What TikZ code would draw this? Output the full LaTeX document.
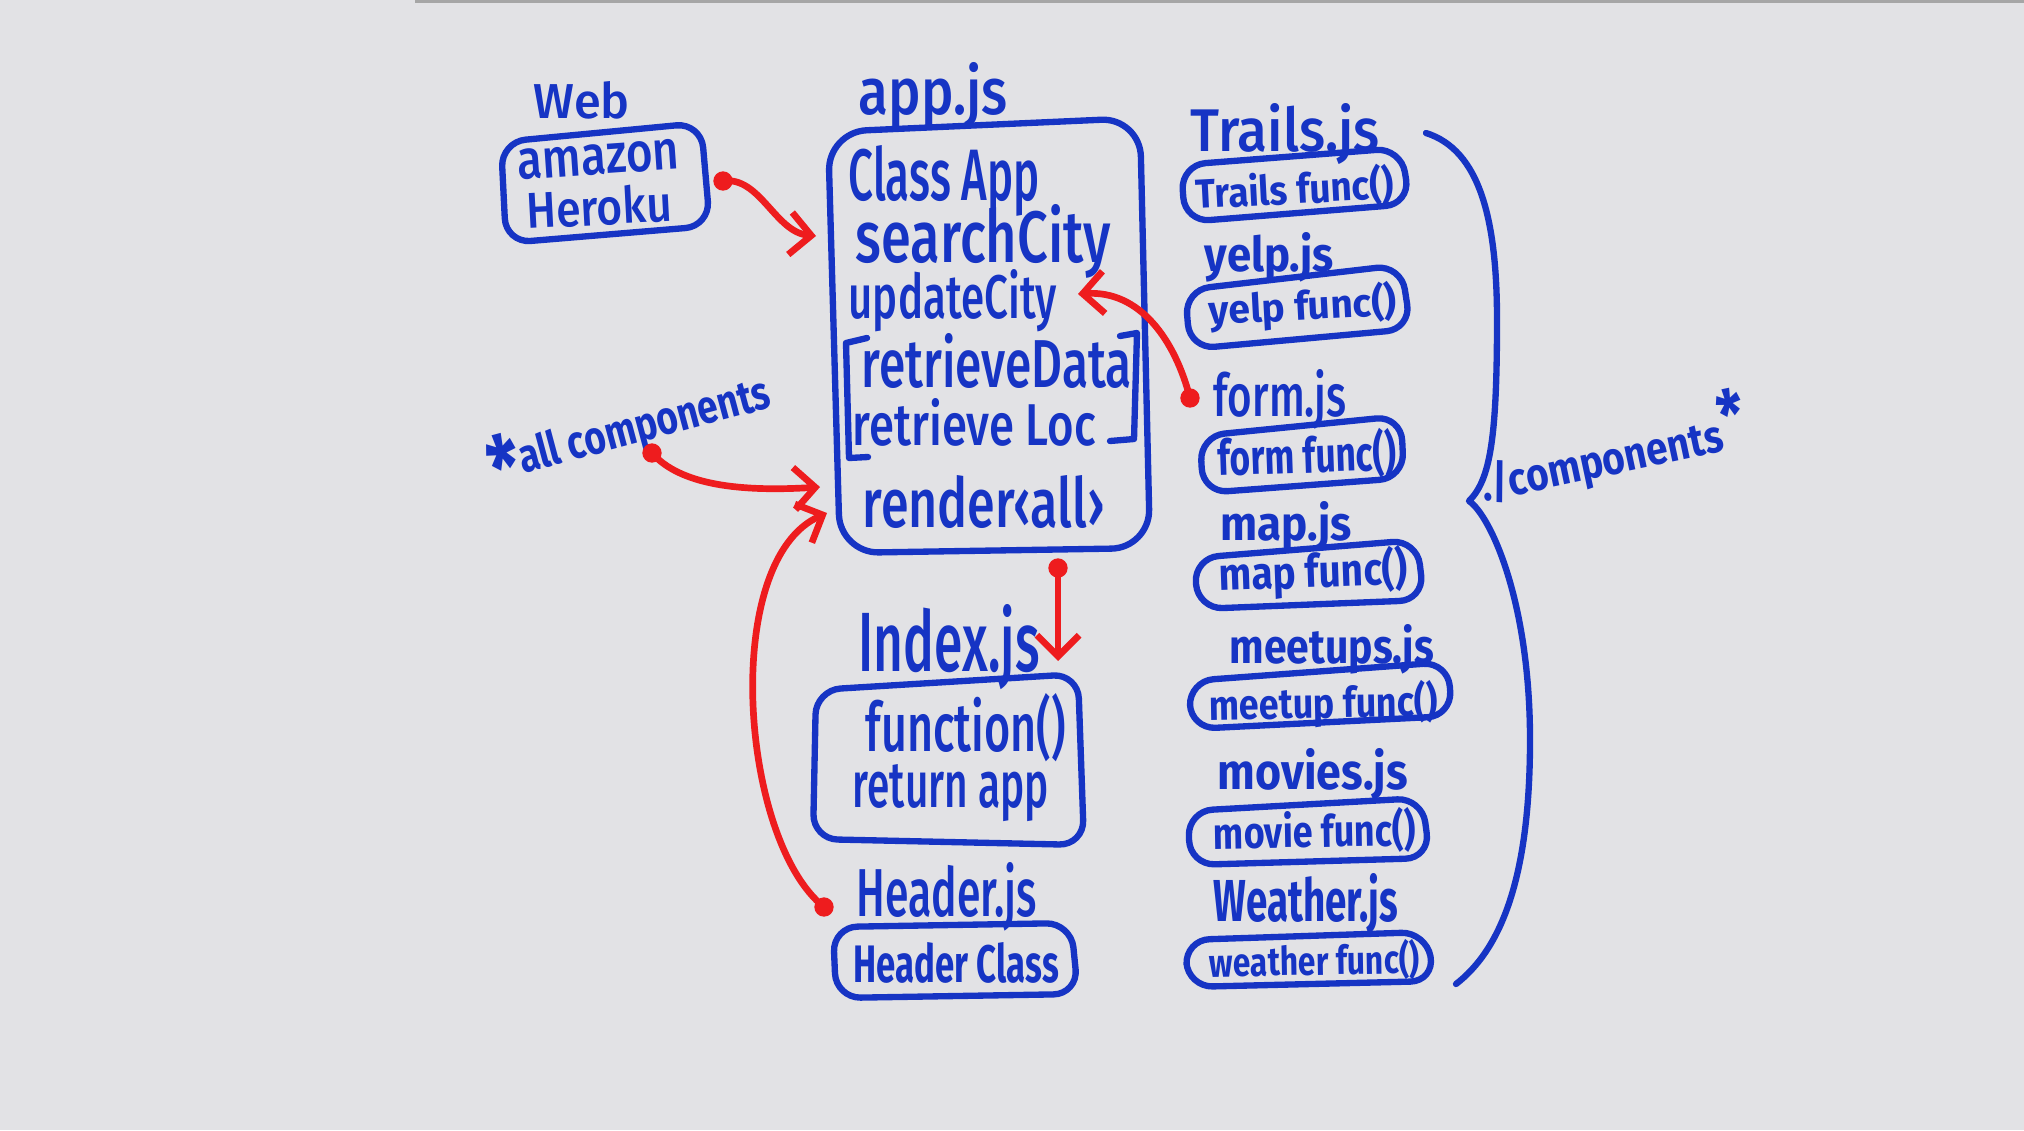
\documentclass[tikz,border=0pt]{standalone}
\usepackage{fontspec}
\setmainfont{Fira Sans}
\newfontfamily\medf{Fira Sans Medium}
\usetikzlibrary{arrows.meta}
\definecolor{bg}{RGB}{226,226,229}
\definecolor{mblue}{RGB}{22,52,196}
\definecolor{mred}{RGB}{238,28,30}
\newcommand\hw[3]{\resizebox{#1}{#2}{#3}}
\begin{document}
\begin{tikzpicture}[x=0.01cm,y=-0.01cm,
  pen/.style={draw=mblue,line width=1.8pt,line join=round,line cap=round},
  boxq/.style={pen,rounded corners=7pt},
  txt/.style={anchor=base west,inner sep=0pt,text=mblue,font=\medf},
  btxt/.style={txt,font=\bfseries},
  rarrow/.style={draw=mred,line width=1.9pt,line cap=round,
    -{Straight Barb[length=6pt,width=12pt,line width=1.9pt]}},
  dotr/.style={circle,fill=mred,inner sep=0pt,minimum size=5.5pt}]
\fill[bg] (0,0) rectangle (2024,1130);
\useasboundingbox (0,0) rectangle (2024,1130);
\draw[gray!70,line width=0.8pt] (415,1.5) -- (2024,1.5);

% Web
\node[txt] (web) at (533,118) {\hw{0.96cm}{0.37cm}{Web}};
\node[txt,rotate=4] (amazon) at (518,180) {\hw{1.62cm}{0.30cm}{amazon}};
\node[txt,rotate=3] (heroku) at (527,229) {\hw{1.45cm}{0.38cm}{Heroku}};
\draw[boxq] (501,142) -- (701,123) -- (710,226) -- (506,243) -- cycle;

% app.js
\node[txt] (appjs) at (858,114) {\hw{1.49cm}{0.52cm}{app.js}};
\draw[pen,rounded corners=11pt] (828,132) -- (1140,118) -- (1150,548) -- (840,553) -- cycle;
\node[txt] (classapp) at (848,200) {\hw{1.91cm}{0.55cm}{Class App}};
\node[txt] (search) at (855,262) {\hw{2.55cm}{0.58cm}{searchCity}};
\node[txt] (update) at (848,318) {\hw{2.08cm}{0.49cm}{updateCity}};
\node[txt] (rdata) at (861,387) {\hw{2.70cm}{0.54cm}{retrieveData}};
\node[txt] (rloc) at (852,445) {\hw{2.43cm}{0.47cm}{retrieve Loc}};
\draw[pen] (867,338) -- (846,343) -- (849,458) -- (868,457);
\draw[pen] (1120,336) -- (1137,333) -- (1134,439) -- (1110,441);
\node[txt] (render) at (862,527) {\hw{2.42cm}{0.52cm}{render‹all›}};

% Index.js
\node[txt] (indexjs) at (858,671) {\hw{1.81cm}{0.67cm}{Index.js}};
\draw[boxq] (816,690) -- (1078,674) -- (1084,845) -- (813,839) -- cycle;
\node[txt] (func) at (865,751) {\hw{2.00cm}{0.58cm}{function()}};
\node[txt] (retapp) at (852,807) {\hw{1.96cm}{0.43cm}{return app}};

% Header.js
\node[txt] (headerjs) at (856,916) {\hw{1.80cm}{0.54cm}{Header.js}};
\draw[boxq] (833,927) -- (1071,923) -- (1078,994) -- (836,998) -- cycle;
\node[btxt] (hclass) at (853,982) {\hw{2.05cm}{0.40cm}{Header Class}};

% right column
\node[txt] (trailsjs) at (1190,151) {\hw{1.89cm}{0.48cm}{Trails.js}};
\draw[boxq] (1181,165) -- (1401,148) -- (1410,204) -- (1185,222) -- cycle;
\node[btxt,rotate=3] (trailsf) at (1196,209) {\hw{1.98cm}{0.35cm}{Trails func()}};

\node[btxt] (yelpjs) at (1204,271) {\hw{1.29cm}{0.39cm}{yelp.js}};
\draw[boxq] (1185,290) -- (1401,265) -- (1411,329) -- (1190,349) -- cycle;
\node[btxt,rotate=3] (yelpf) at (1209,325) {\hw{1.88cm}{0.34cm}{yelp func()}};

\node[txt] (formjs) at (1213,416) {\hw{1.33cm}{0.47cm}{form.js}};
\draw[boxq] (1200,436) -- (1401,416) -- (1404,478) -- (1203,493) -- cycle;
\node[btxt,rotate=2] (formf) at (1218,476) {\hw{1.78cm}{0.42cm}{form func()}};

\node[btxt] (mapjs) at (1220,540) {\hw{1.31cm}{0.39cm}{map.js}};
\draw[boxq] (1194,558) -- (1417,540) -- (1424,600) -- (1198,609) -- cycle;
\node[btxt,rotate=2] (mapf) at (1219,591) {\hw{1.88cm}{0.39cm}{map func()}};

\node[btxt] (meetupsjs) at (1229,663) {\hw{2.04cm}{0.39cm}{meetups.js}};
\draw[boxq] (1189,681) -- (1448,662) -- (1452,716) -- (1191,729) -- cycle;
\node[btxt,rotate=1] (meetupf) at (1209,720) {\hw{2.28cm}{0.36cm}{meetup func()}};

\node[btxt] (moviesjs) at (1217,789) {\hw{1.90cm}{0.41cm}{movies.js}};
\draw[boxq] (1188,811) -- (1422,798) -- (1430,858) -- (1190,865) -- cycle;
\node[btxt,rotate=1] (movief) at (1213,849) {\hw{2.02cm}{0.38cm}{movie func()}};

\node[btxt] (weatherjs) at (1213,921) {\hw{1.84cm}{0.48cm}{Weather.js}};
\draw[boxq] (1185,940) -- (1426,932) -- (1435,981) -- (1188,987) -- cycle;
\node[btxt,rotate=1] (weatherf) at (1209,977) {\hw{2.10cm}{0.34cm}{weather func()}};

% brace
\draw[pen] (1426,133) .. controls (1480,150) and (1497,220) .. (1497,320)
  .. controls (1497,440) and (1490,480) .. (1469,501)
  .. controls (1490,515) and (1530,600) .. (1530,740)
  .. controls (1530,880) and (1500,950) .. (1456,984);
\node[btxt,rotate=12] (comps) at (1484,502) {\hw{2.72cm}{0.60cm}{./components\raisebox{0.2em}{\scalebox{1.5}{*}}}};

% all components
\node[btxt,rotate=15] (allc) at (492,482) {\hw{2.90cm}{0.45cm}{\raisebox{-0.45em}{\scalebox{1.9}{*}}all components}};

% red connectors
\node[dotr] (d1) at (723,181) {};
\coordinate (a1) at (816,236);
\draw[rarrow] (d1.center) .. controls (760,176) and (775,232) .. (a1);

\node[dotr] (d2) at (1190,398) {};
\coordinate (a2) at (1078,294);
\draw[rarrow] (d2.center) .. controls (1175,340) and (1140,290) .. (a2);

\node[dotr] (d3) at (652,453) {};
\coordinate (a3) at (820,487);
\draw[rarrow] (d3.center) .. controls (680,485) and (740,492) .. (a3);

\node[dotr] (d4) at (824,907) {};
\coordinate (a4) at (827,513);
\draw[rarrow] (d4.center) .. controls (740,840) and (720,560) .. (a4);

\node[dotr] (d5) at (1058,568) {};
\coordinate (a5) at (1058,661);
\draw[rarrow] (d5.center) -- (a5);
\end{tikzpicture}
\end{document}
